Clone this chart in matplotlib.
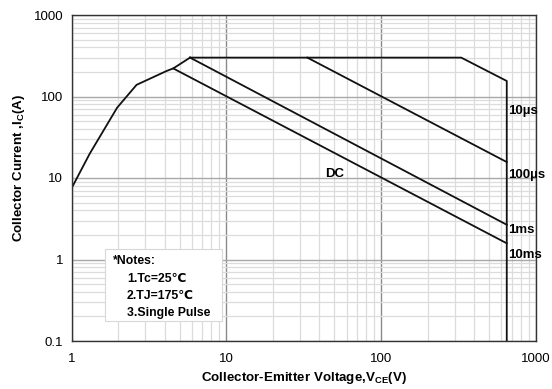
import matplotlib
matplotlib.use("Agg")
import matplotlib.pyplot as plt
from matplotlib.ticker import LogLocator, NullFormatter, FixedLocator, FixedFormatter

plt.rcParams['font.family'] = ['Liberation Sans', 'DejaVu Sans']
plt.rcParams['mathtext.fontset'] = 'custom'
plt.rcParams['mathtext.rm'] = 'Liberation Sans:bold'
plt.rcParams['mathtext.bf'] = 'Liberation Sans:bold'

# Rising (thermal / saturation) boundary, shared by all curves
rise_v = [1.0, 1.31, 1.97, 2.63, 4.12, 4.54, 5.83]
rise_i = [7.5, 19.9, 73, 139, 206, 221, 300]

# Pulse envelope: flat 300 A, then power-limited down to 650 V
env_v = [5.83, 330, 650, 650]
env_i = [300, 300, 155, 0.1]

# Power-limited straight segments
line_a_v = [33.4, 650]
line_a_i = [300, 15.7]
line_b_v = [5.83, 650]
line_b_i = [300, 2.67]
dc_v = [4.54, 650]
dc_i = [221, 1.58]

curve_labels = ["10µs", "100µs", "1ms", "10ms"]
curve_label_i = [66, 10.8, 2.33, 1.15]

x_ticks = [1, 10, 100, 1000]
x_tick_labels = ["1", "10", "100", "1000"]
y_ticks = [0.1, 1, 10, 100, 1000]
y_tick_labels = ["0.1", "1", "10", "100", "1000"]

notes = ["*Notes:", "1.Tc=25℃", "2.TJ=175℃", "3.Single Pulse"]

W, H = 552, 389
fig = plt.figure(figsize=(W / 100, H / 100), dpi=100)
ax = fig.add_axes([71.6 / W, 1 - 341 / H, (535.7 - 71.6) / W, (341 - 15) / H])
ax.set_xscale('log')
ax.set_yscale('log')
ax.set_xlim(1, 1000)
ax.set_ylim(0.1, 1000)

ax.xaxis.set_major_locator(FixedLocator(x_ticks))
ax.xaxis.set_major_formatter(FixedFormatter(x_tick_labels))
ax.yaxis.set_major_locator(FixedLocator(y_ticks))
ax.yaxis.set_major_formatter(FixedFormatter(y_tick_labels))
ax.xaxis.set_minor_locator(LogLocator(base=10, subs=range(2, 10)))
ax.yaxis.set_minor_locator(LogLocator(base=10, subs=range(2, 10)))
ax.xaxis.set_minor_formatter(NullFormatter())
ax.yaxis.set_minor_formatter(NullFormatter())

ax.grid(which='minor', color='#dcdcdc', linewidth=0.9)
ax.grid(which='major', axis='x', color='#8a8a8a', linewidth=1.0)
ax.grid(which='major', axis='y', color='#a8a8a8', linewidth=1.0)
ax.set_axisbelow(True)
ax.tick_params(which='both', length=0, labelsize=9.5)
ax.tick_params(axis='x', pad=9)
ax.tick_params(axis='y', pad=6)

for s in ax.spines.values():
    s.set_color('#333333')
    s.set_linewidth(1.0)

lc = '#111111'
lw = 1.3
ax.plot(rise_v, rise_i, color=lc, lw=lw)
ax.plot(env_v, env_i, color=lc, lw=lw)
ax.plot(line_a_v, line_a_i, color=lc, lw=lw)
ax.plot(line_b_v, line_b_i, color=lc, lw=lw)
ax.plot(dc_v, dc_i, color=lc, lw=lw)

for txt, iv in zip(curve_labels, curve_label_i):
    ax.text(660, iv, txt, fontsize=9.5, fontweight='bold', va='center', ha='left')
ax.text(50.5, 11.1, "DC", fontsize=9.5, fontweight='bold', va='center', ha='center')

fig.text(304 / W, 1 - 378 / H, r"Collector-Emitter Voltage,V$_{\mathrm{CE}}$(V)",
         fontsize=9.6, fontweight='bold', ha='center', va='center')
fig.text(19 / W, 1 - 168 / H, r"Collector Current ,I$_{\mathrm{C}}$(A)",
         fontsize=9.6, fontweight='bold', ha='center', va='center', rotation=90)

# Notes box
box = plt.Rectangle((105 / W, 1 - 321 / H), (222 - 105) / W, (321 - 249) / H,
                    transform=fig.transFigure, facecolor='white', edgecolor='#d8d8d8',
                    linewidth=0.8, zorder=5)
fig.patches.append(box)
note_y = [261, 279, 296, 313]
note_x = [113, 127, 127, 127]
for t, x, y in zip(notes, note_x, note_y):
    fig.text(x / W, 1 - y / H, t, fontsize=8.8, fontweight='bold', va='center', ha='left', zorder=6)

fig.savefig("out.png", dpi=100)
